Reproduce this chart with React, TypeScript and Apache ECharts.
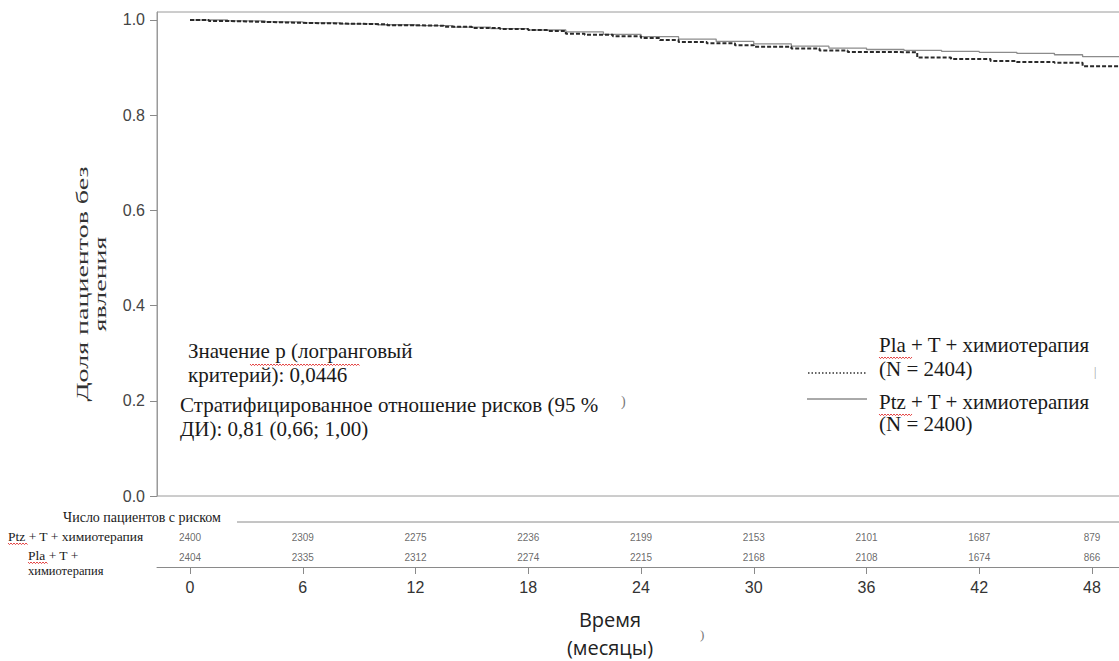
import React, { useEffect, useRef } from "react";
import * as echarts from "echarts";

// ---- data ----
const riskTimes = [0, 6, 12, 18, 24, 30, 36, 42, 48];
const atRiskPtz = [2400, 2309, 2275, 2236, 2199, 2153, 2101, 1687, 879];
const atRiskPla = [2404, 2335, 2312, 2274, 2215, 2168, 2108, 1674, 866];
const riskRows = ["Ptz", "Pla"];

const plaTimes = [0, 1, 2, 3, 4, 5, 6, 7.5, 9, 10.5, 12, 13.5, 15, 16.5, 18, 19, 20, 21, 22.5, 24, 25, 26, 27.5, 29, 30, 32, 33.5, 35, 37, 38.7, 40.5, 42.6, 44, 46, 47.5, 49.6];
const plaSurv = [1.0, 0.998, 0.997, 0.996, 0.995, 0.994, 0.993, 0.992, 0.991, 0.989, 0.988, 0.986, 0.983, 0.981, 0.979, 0.977, 0.971, 0.969, 0.966, 0.962, 0.958, 0.954, 0.951, 0.947, 0.944, 0.94, 0.936, 0.933, 0.932, 0.921, 0.918, 0.914, 0.912, 0.91, 0.903, 0.901];

const ptzTimes = [0, 2, 4, 6, 8, 10, 12, 14, 16, 18, 20, 22, 24, 26, 28, 30, 32, 34, 36, 38, 40, 42, 44, 46, 47.5, 49.6];
const ptzSurv = [1.0, 0.998, 0.996, 0.994, 0.992, 0.99, 0.988, 0.985, 0.982, 0.979, 0.975, 0.97, 0.965, 0.96, 0.955, 0.95, 0.945, 0.941, 0.938, 0.936, 0.934, 0.932, 0.93, 0.927, 0.923, 0.919];

const yTicks = [0, 0.2, 0.4, 0.6, 0.8, 1.0];

const SERIF = "'Liberation Serif', 'Times New Roman', serif";
const SANS = "'Liberation Sans', Arial, sans-serif";
const OPEN = "'Open Sans', 'Noto Sans', sans-serif";

function squiggle(x: number, y: number, w: number) {
  const pts: number[][] = [];
  let i = 0;
  for (let dx = 0; dx <= w; dx += 1.5, i++) {
    pts.push([x + dx, y + (i % 2 === 0 ? 0 : 1.6)]);
  }
  return {
    type: "polyline",
    silent: true,
    shape: { points: pts },
    style: { stroke: "#e03030", lineWidth: 0.9, fill: null },
  };
}

function txt(x: number, y: number, text: string, size: number, opts: any = {}) {
  return {
    type: "text",
    x,
    y,
    silent: true,
    rotation: opts.rotation || 0,
    scaleX: opts.scaleX || 1,
    style: {
      text,
      fontFamily: opts.font || SERIF,
      fontSize: size,
      fill: opts.color || "#1a1a1a",
      textAlign: opts.align || "left",
      textVerticalAlign: "middle",
      lineHeight: opts.lh || size * 1.2,
    },
  };
}

export default function App() {
  const ref = useRef<HTMLDivElement>(null);
  useEffect(() => {
    if (!ref.current) return;
    const chart = echarts.init(ref.current, null, { renderer: "svg" });
    const k = (1092 - 190) / 48;
    const xMin = -(190 - 157) / k;
    const xMax = 50;
    const gridW = (xMax - xMin) * k;

    const riskLabel = { show: true, position: "inside", formatter: (p: any) => String(p.value[2]), color: "#444", fontSize: 10, fontFamily: SANS };

    const option: any = {
      animation: false,
      backgroundColor: "#ffffff",
      grid: [
        { left: 157, top: 12, width: gridW, height: 484, show: true, borderColor: "#9a9a9a", borderWidth: 1, backgroundColor: "transparent" },
        { left: 157, top: 527, width: gridW, height: 40 },
      ],
      xAxis: [
        {
          type: "value", gridIndex: 0, min: xMin, max: xMax,
          axisLine: { show: false }, axisTick: { show: false }, axisLabel: { show: false }, splitLine: { show: false },
        },
        {
          type: "value", gridIndex: 1, min: xMin, max: xMax,
          axisLine: { show: true, onZero: false, lineStyle: { color: "#8a8a8a", width: 1 } },
          axisTick: { show: true, customValues: riskTimes, length: 7, lineStyle: { color: "#8a8a8a" } },
          axisLabel: { show: true, customValues: riskTimes, color: "#333", fontSize: 16, fontFamily: SANS, margin: 12 },
          splitLine: { show: false },
        },
      ],
      yAxis: [
        {
          type: "value", gridIndex: 0, min: 0, max: 1.0168,
          axisLine: { show: true, onZero: false, lineStyle: { color: "#9a9a9a" } },
          axisTick: { show: true, customValues: yTicks, length: 7, lineStyle: { color: "#8a8a8a" } },
          axisLabel: { show: true, customValues: yTicks, color: "#444", fontSize: 16, fontFamily: SANS, margin: 12, formatter: (v: number) => v.toFixed(1) },
          splitLine: { show: false },
        },
        {
          type: "category", gridIndex: 1, data: riskRows, inverse: true,
          axisLine: { show: false }, axisTick: { show: false }, axisLabel: { show: false }, splitLine: { show: false },
        },
      ],
      series: [
        {
          name: "Ptz + T + химиотерапия", type: "line", xAxisIndex: 0, yAxisIndex: 0, step: "end", symbol: "none",
          data: ptzTimes.map((t, i) => [t, ptzSurv[i]]),
          lineStyle: { color: "#8c8c8c", width: 1.3 },
        },
        {
          name: "Pla + T + химиотерапия", type: "line", xAxisIndex: 0, yAxisIndex: 0, step: "end", symbol: "none",
          data: plaTimes.map((t, i) => [t, plaSurv[i]]),
          lineStyle: { color: "#2a2a2a", width: 2, type: [4, 2] },
        },
        {
          type: "scatter", xAxisIndex: 1, yAxisIndex: 1, symbolSize: 0,
          data: riskTimes.map((t, i) => [t, "Ptz", atRiskPtz[i]]),
          label: riskLabel,
        },
        {
          type: "scatter", xAxisIndex: 1, yAxisIndex: 1, symbolSize: 0,
          data: riskTimes.map((t, i) => [t, "Pla", atRiskPla[i]]),
          label: riskLabel,
        },
      ],
      graphic: [
        // y axis title
        txt(92, 284, "Доля пациентов без\nявления", 16, { align: "center", rotation: Math.PI / 2, lh: 18, scaleX: 1.75, color: "#333" }),
        // annotations
        txt(188, 351, "Значение р (логранговый", 21),
        txt(188, 375, "критерий): 0,0446", 21),
        squiggle(250, 364, 110),
        txt(180, 405, "Стратифицированное отношение рисков (95 %", 21),
        txt(180, 429, "ДИ): 0,81 (0,66; 1,00)", 21),
        txt(621, 401, ")", 14, { color: "#777" }),
        // legend
        txt(879, 345, "Pla + T + химиотерапия", 21),
        squiggle(879, 357, 33),
        txt(879, 369, "(N = 2404)", 21),
        { type: "line", silent: true, shape: { x1: 808, y1: 373, x2: 867, y2: 373 }, style: { stroke: "#333", lineWidth: 1.3, lineDash: [1.5, 2] } },
        { type: "line", silent: true, shape: { x1: 807, y1: 399, x2: 867, y2: 399 }, style: { stroke: "#555", lineWidth: 1 } },
        txt(879, 402, "Ptz + T + химиотерапия", 21),
        squiggle(879, 414, 33),
        txt(879, 424, "(N = 2400)", 21),
        txt(1094, 372, "|", 12, { color: "#999" }),
        // risk table
        txt(142, 517, "Число пациентов с риском", 14, { align: "center" }),
        { type: "line", silent: true, shape: { x1: 237, y1: 522, x2: 1140, y2: 522 }, style: { stroke: "#8a8a8a", lineWidth: 1 } },
        txt(8, 536, "Ptz + T + химиотерапия", 13.5),
        squiggle(8, 543, 20),
        txt(28, 555, "Pla + T +", 13.5),
        squiggle(28, 562, 20),
        txt(28, 571, "химиотерапия", 12.5),
        // x axis title
        txt(610, 619, "Время", 20, { align: "center", font: OPEN, color: "#222" }),
        txt(610, 647, "(месяцы)", 20, { align: "center", font: OPEN, color: "#222" }),
        txt(700, 634, ")", 13, { color: "#777" }),
      ],
    };
    chart.setOption(option);
    return () => chart.dispose();
  }, []);

  return (
    <div style={{ position: "fixed", left: 0, top: 0, width: 1119, height: 661, overflow: "hidden", background: "#fff" }}>
      <div ref={ref} style={{ width: 1140, height: 661 }} />
    </div>
  );
}
